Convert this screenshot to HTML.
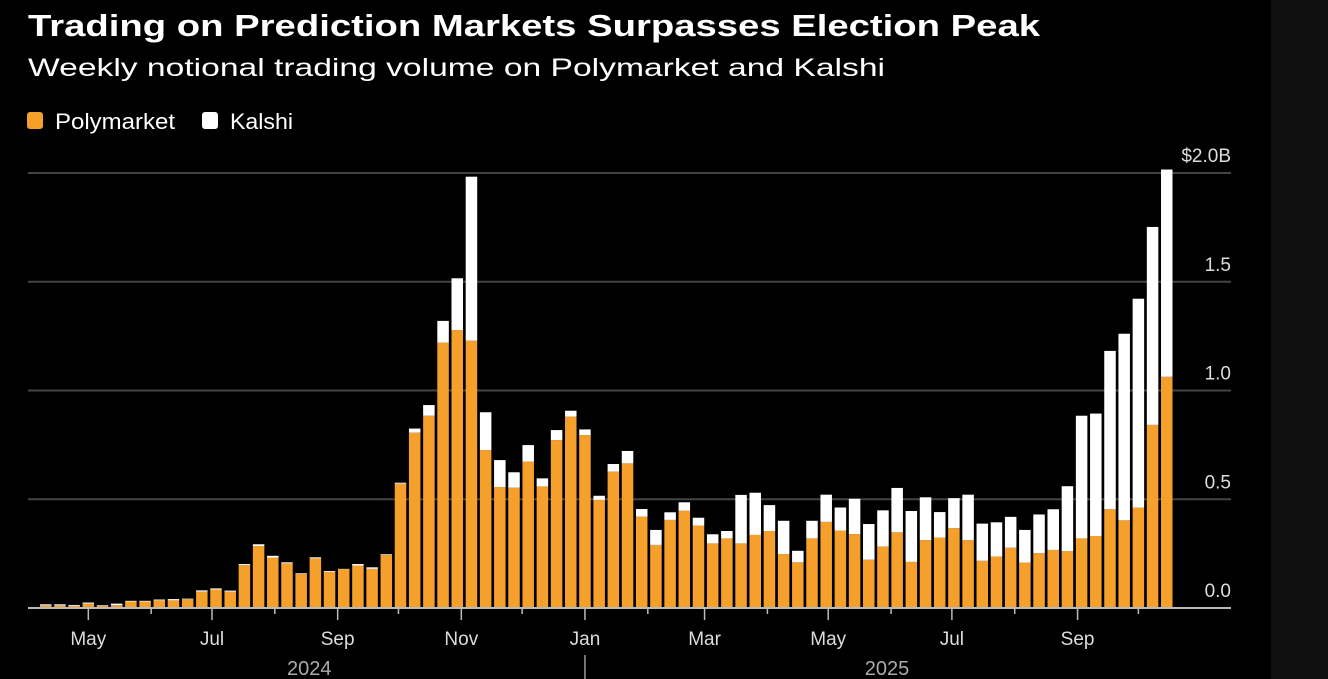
<!DOCTYPE html>
<html><head><meta charset="utf-8">
<style>
html,body{margin:0;padding:0;background:#000;}
body{width:1328px;height:679px;overflow:hidden;position:relative;font-family:"Liberation Sans","DejaVu Sans",sans-serif;}
#strip{position:absolute;left:1271px;top:0;width:57px;height:679px;background:#0f0f0f;}
svg{position:absolute;left:0;top:0;}
</style></head>
<body>
<div id="strip"></div>
<svg id="chart" width="1328" height="679">
  <text x="28" y="36" fill="#fff" font-size="31" font-weight="bold" textLength="1012" lengthAdjust="spacingAndGlyphs">Trading on Prediction Markets Surpasses Election Peak</text>
  <text x="28" y="76" fill="#fff" font-size="25" textLength="857" lengthAdjust="spacingAndGlyphs">Weekly notional trading volume on Polymarket and Kalshi</text>
  <g>
    <rect x="27" y="112" width="16" height="17" rx="3" fill="#f5a02a"/>
    <text x="55" y="129" fill="#fff" font-size="22" textLength="120" lengthAdjust="spacingAndGlyphs">Polymarket</text>
    <rect x="202" y="112" width="16" height="17" rx="3" fill="#fff"/>
    <text x="230" y="129" fill="#fff" font-size="22" textLength="63" lengthAdjust="spacingAndGlyphs">Kalshi</text>
  </g>
  <g id="grid"></g>
  <g id="bars"></g>
  <g id="axis"></g>
</svg>
<script>
const polymarket = [0.012,0.012,0.01,0.02,0.01,0.013,0.03,0.03,0.035,0.035,0.04,0.075,0.085,0.075,0.197,0.285,0.232,0.205,0.157,0.228,0.166,0.178,0.195,0.18,0.243,0.572,0.806,0.884,1.22,1.278,1.229,0.726,0.556,0.553,0.673,0.559,0.772,0.88,0.795,0.497,0.627,0.665,0.42,0.29,0.405,0.447,0.379,0.297,0.32,0.297,0.336,0.354,0.248,0.21,0.32,0.396,0.356,0.34,0.222,0.283,0.348,0.212,0.312,0.324,0.367,0.312,0.217,0.237,0.277,0.209,0.252,0.267,0.261,0.32,0.331,0.454,0.403,0.462,0.842,1.063];
const kalshi = [0.005,0.005,0.004,0.005,0.003,0.007,0.003,0.003,0.004,0.006,0.003,0.006,0.005,0.005,0.005,0.008,0.008,0.005,0.003,0.005,0.004,0.002,0.007,0.007,0.004,0.004,0.019,0.049,0.10,0.238,0.754,0.174,0.124,0.071,0.076,0.037,0.046,0.027,0.026,0.019,0.035,0.057,0.035,0.069,0.035,0.039,0.036,0.042,0.034,0.223,0.194,0.119,0.153,0.053,0.081,0.125,0.106,0.162,0.164,0.166,0.204,0.234,0.197,0.117,0.138,0.209,0.171,0.157,0.142,0.15,0.178,0.187,0.299,0.564,0.563,0.728,0.858,0.96,0.91,0.953];
const yTicks = [0, 0.5, 1.0, 1.5, 2.0];
const yTickLabels = ["0.0","0.5","1.0","1.5","$2.0B"];
const majorTicks = [["2024-05-01","May"],["2024-07-01","Jul"],["2024-09-01","Sep"],["2024-11-01","Nov"],["2025-01-01","Jan"],["2025-03-01","Mar"],["2025-05-01","May"],["2025-07-01","Jul"],["2025-09-01","Sep"]];
const minorTicks = ["2024-06-01","2024-08-01","2024-10-01","2024-12-01","2025-02-01","2025-04-01","2025-06-01","2025-08-01","2025-10-01"];
const yearLabels = [["2024","2024-08-18"],["2025","2025-05-30"]];
const firstWeek = "2024-04-10";

const NS="http://www.w3.org/2000/svg";
const y0=608, yPerB=217.5, x0=40, pitch=14.19, bw=11.5;
const yScale=v=>y0-v*yPerB;
const t0=Date.parse(firstWeek);
const xDate=d=>x0+bw/2+((Date.parse(d)-t0)/86400000/7)*pitch;
function mk(tag,attrs,parent){const e=document.createElementNS(NS,tag);for(const k in attrs)e.setAttribute(k,attrs[k]);parent.appendChild(e);return e;}
const grid=document.getElementById('grid'),bars=document.getElementById('bars'),axis=document.getElementById('axis');

yTicks.forEach((v,i)=>{
  if(v>0){const l=mk('line',{x1:28,x2:1231,y1:yScale(v),y2:yScale(v),stroke:'#444','stroke-width':2},grid);
  
  }
  const t=mk('text',{x:1231,y:yScale(v)-11,fill:'#ddd','font-size':19,'text-anchor':'end'},grid);
  t.textContent=yTickLabels[i];
  
  
});

polymarket.forEach((p,i)=>{
  const k=kalshi[i];const x=x0+i*pitch;
  const r1=mk('rect',{x:x,y:yScale(p),width:bw,height:p*yPerB,fill:'#f5a02a'},bars);
  
  
  const r2=mk('rect',{x:x,y:yScale(p+k),width:bw,height:k*yPerB,fill:'#fff'},bars);
  
  
});

const base=mk('line',{x1:28,x2:1231,y1:y0,y2:y0,stroke:'#bbb','stroke-width':2},axis);


majorTicks.forEach(([d,lab])=>{
  const x=xDate(d);
  const tk=mk('line',{x1:x,x2:x,y1:y0,y2:y0+12,stroke:'#bbb','stroke-width':1.5},axis);
  
  
  const t=mk('text',{x:x,y:645,fill:'#ddd','font-size':19,'text-anchor':'middle'},axis);
  t.textContent=lab;
  
  
});
minorTicks.forEach(d=>{
  const x=xDate(d);
  const tk=mk('line',{x1:x,x2:x,y1:y0,y2:y0+6,stroke:'#bbb','stroke-width':1.5},axis);
  
  
});
const yd=xDate("2025-01-01");
const div=mk('line',{x1:yd,x2:yd,y1:655,y2:679,stroke:'#999','stroke-width':1.5},axis);


yearLabels.forEach(([lab,d])=>{
  const t=mk('text',{x:xDate(d),y:675,fill:'#aaa','font-size':20,'text-anchor':'middle'},axis);
  t.textContent=lab;
  
  
});
</script>
</body></html>
